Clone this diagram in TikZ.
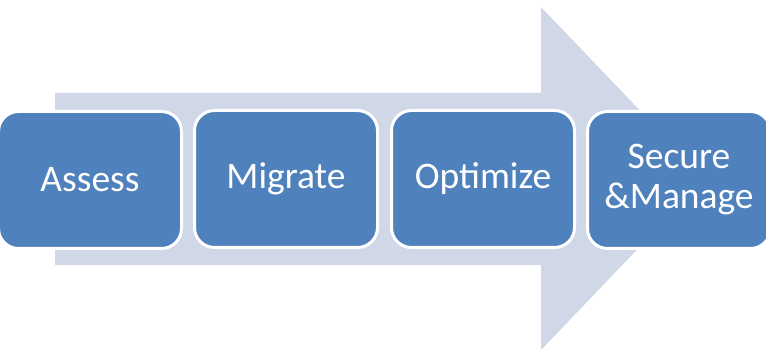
\documentclass[tikz,border=0pt]{standalone}
\usepackage{fontspec}
\setmainfont{Carlito}
\definecolor{boxblue}{HTML}{4F81BD}
\definecolor{arrowgray}{HTML}{D0D8E8}
\begin{document}
\begin{tikzpicture}[x=1pt,y=-1pt,
  stagebox/.style={draw=white, line width=3pt, fill=boxblue, rounded corners=20pt,
    minimum width=183pt, minimum height=137pt, text=white, align=center,
    font=\fontsize{37.5}{40}\selectfont, inner sep=0pt}]
\useasboundingbox (0,0) rectangle (766,352);
\fill[arrowgray] (55,93) -- (541,93) -- (541,7) -- (705,178.5) -- (541,350) -- (541,265) -- (55,265) -- cycle;
\node[stagebox] (assess) at (90,180) {Assess};
\node[stagebox] (migrate) at (286,179) {Migrate};
\node[stagebox] (optimize) at (483,179) {Optimize};
\node[stagebox] (secure) at (679,180) {Secure\\\&Manage};
\end{tikzpicture}
\end{document}
